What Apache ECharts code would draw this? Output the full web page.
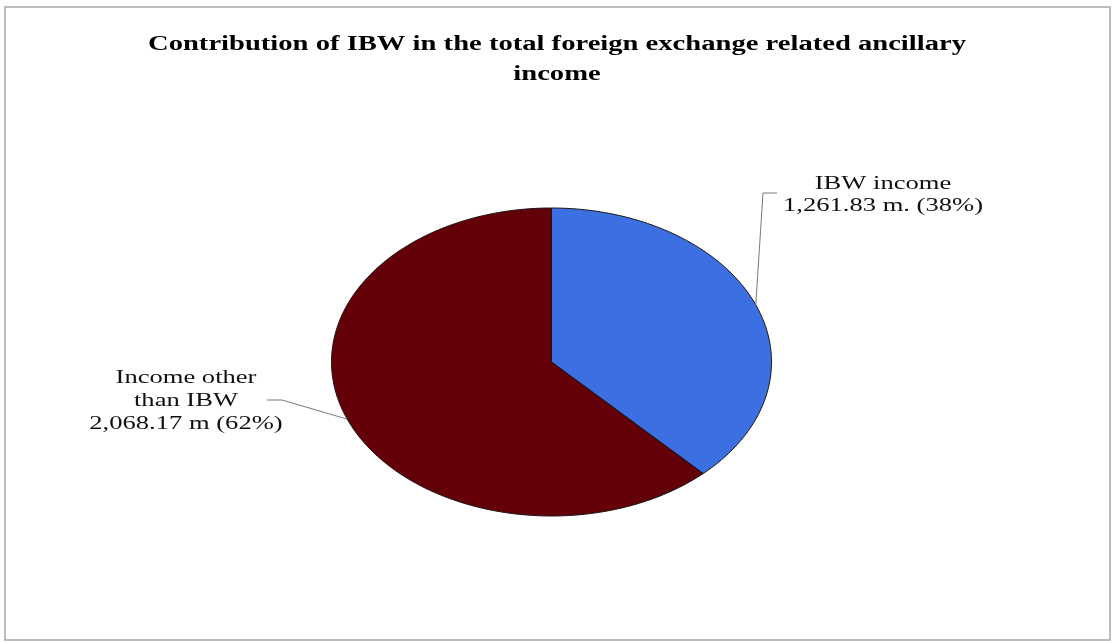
<!DOCTYPE html>
<html>
<head>
<meta charset="utf-8">
<script src="https://cdn.jsdelivr.net/npm/echarts@6/dist/echarts.min.js"></script>
<style>
html,body{margin:0;padding:0;background:#fff;}
#chart{width:1113px;height:642px;}
</style>
</head>
<body>
<div id="chart"></div>
<script>
// ---- data ----
const titleLines = ['Contribution of IBW in the total foreign exchange related ancillary', 'income'];
const categories = ['IBW income', 'Income other than IBW'];
const values = [1261.83, 2068.17];
const labelLines = [
  ['IBW income', '1,261.83 m. (38%)'],
  ['Income other', 'than IBW', '2,068.17 m (62%)']
];
const colors = ['#3c70e2', '#640008'];

// ---- layout (styles / positions only) ----
const PIE = { cx: 551.5, cy: 362, rx: 220, ry: 154 };
const LABEL_LAYOUT = [
  { x: 883, y0: 184, lh: 22, leader: [[763, 193], [777, 193]] },
  { x: 186, y0: 378, lh: 23, leader: [[282, 400], [267, 400]] }
];
const LABEL_FONT = '18px "Liberation Serif"';
const TITLE_FONT = 'bold 20px "Liberation Serif"';

const cv = document.createElement('canvas').getContext('2d');
function measure(t, f) { cv.font = f; return cv.measureText(t).width; }
const labelScale = 200 / measure(labelLines[0][1], LABEL_FONT);
const titleScale = 818 / measure(titleLines[0], TITLE_FONT);

const total = values.reduce((a, b) => a + b, 0);
const starts = [];
values.reduce((acc, v, i) => { starts[i] = acc; return acc + v; }, 0);

function pt(frac) {
  const th = 2 * Math.PI * frac;
  return [PIE.cx + PIE.rx * Math.sin(th), PIE.cy - PIE.ry * Math.cos(th)];
}

function renderItem(params, api) {
  const i = params.dataIndex;
  const v = api.value(0);
  const f0 = starts[i] / total;
  const f1 = (starts[i] + v) / total;
  const n = Math.max(8, Math.ceil((f1 - f0) * 360));
  const pts = [[PIE.cx, PIE.cy]];
  for (let k = 0; k <= n; k++) pts.push(pt(f0 + (f1 - f0) * k / n));
  const mid = pt((f0 + f1) / 2);
  const lay = LABEL_LAYOUT[i];
  const children = [
    { type: 'polygon', shape: { points: pts },
      style: { fill: colors[i], stroke: '#161616', lineWidth: 1 } },
    { type: 'polyline', shape: { points: [mid].concat(lay.leader) },
      style: { fill: null, stroke: '#7a7a7a', lineWidth: 1 } }
  ];
  labelLines[i].forEach((t, j) => {
    children.push({
      type: 'text', x: lay.x, y: lay.y0 + j * lay.lh, scaleX: labelScale,
      style: { text: t, font: LABEL_FONT, fill: '#111',
               align: 'center', verticalAlign: 'middle',
               textAlign: 'center', textVerticalAlign: 'middle' }
    });
  });
  return { type: 'group', children };
}

const chart = echarts.init(document.getElementById('chart'), null, { renderer: 'canvas' });
chart.setOption({
  backgroundColor: '#fff',
  animation: false,
  graphic: [
    { type: 'rect', shape: { x: 5, y: 7, width: 1105, height: 633 },
      style: { fill: null, stroke: '#a8a8a8', lineWidth: 1.5 }, z: 0 },
    { type: 'text', x: 557, y: 45, scaleX: titleScale,
      style: { text: titleLines[0], font: TITLE_FONT, fill: '#000',
               align: 'center', verticalAlign: 'middle', textAlign: 'center', textVerticalAlign: 'middle' } },
    { type: 'text', x: 557, y: 75, scaleX: titleScale,
      style: { text: titleLines[1], font: TITLE_FONT, fill: '#000',
               align: 'center', verticalAlign: 'middle', textAlign: 'center', textVerticalAlign: 'middle' } }
  ],
  series: [{
    type: 'custom',
    coordinateSystem: 'none',
    renderItem: renderItem,
    data: values.map((v, i) => ({ name: categories[i], value: [v] }))
  }]
});
</script>
</body>
</html>
